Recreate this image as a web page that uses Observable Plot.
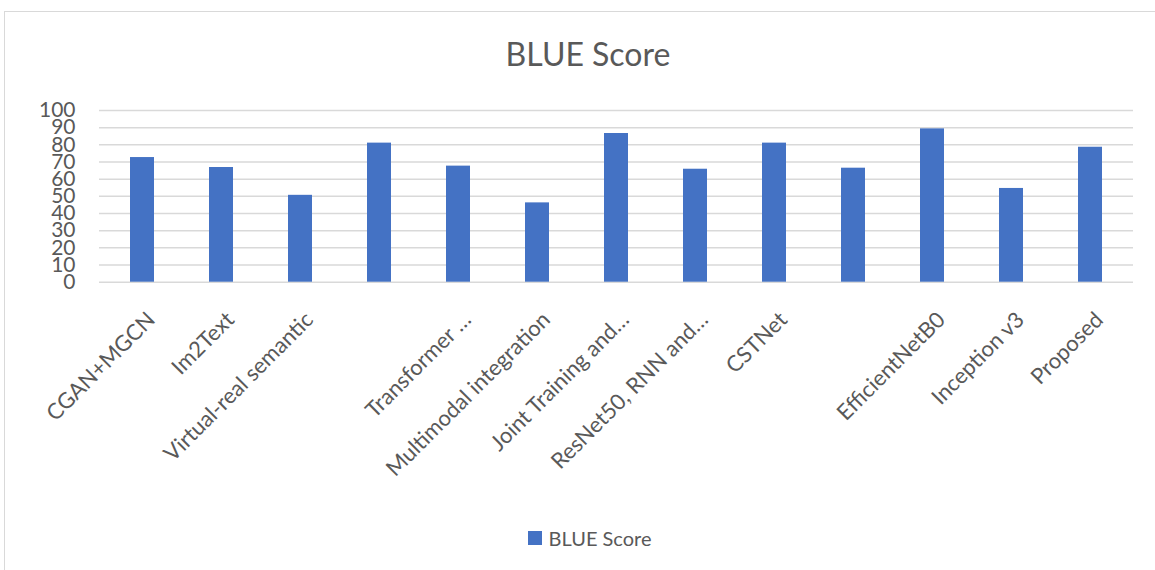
<!DOCTYPE html>
<html>
<head>
<meta charset="utf-8">
<script src="https://cdn.jsdelivr.net/npm/d3@7"></script>
<script src="https://cdn.jsdelivr.net/npm/@observablehq/plot@0.6"></script>
<style>
  html, body { margin: 0; padding: 0; background: #fff; }
  body { width: 1155px; height: 570px; overflow: hidden; position: relative; font-family: Lato, "Open Sans", sans-serif; color: #595959; }
  .frame { position: absolute; left: 4px; top: 11px; width: 1300px; height: 700px; z-index: 2; pointer-events: none;
           border-top: 1.5px solid #d9d9d9; border-left: 1.5px solid #d9d9d9; box-sizing: border-box; }
  #chart { position: absolute; left: 0; top: 0; width: 1155px; z-index: 1; }
  .title { height: 90px; box-sizing: border-box; padding-top: 38px; width: 1176px;
           text-align: center; font-size: 32px; line-height: 32px; white-space: nowrap; }
  .legend { height: 60px; box-sizing: border-box; padding-top: 18px; width: 1179px;
            display: flex; justify-content: center; align-items: flex-start; }
  .legend .item { display: flex; align-items: center; height: 20px; font-size: 20px; line-height: 20px; }
  .legend .swatch { width: 14px; height: 14px; background: #4472c4; margin-right: 7px; }
  svg { display: block; }
</style>
</head>
<body>
<div id="chart"></div>
<div class="frame"></div>
<script>
// Models compared (two categories carry no printed label on the axis)
const labels = [
  "CGAN+MGCN",
  "Im2Text",
  "Virtual-real semantic",
  "",
  "Transformer …",
  "Multimodal integration",
  "Joint Training and…",
  "ResNet50, RNN and…",
  "CSTNet",
  "",
  "EfficientNetB0",
  "Inception v3",
  "Proposed"
];

// BLUE score per model
const scores = [72.6, 66.8, 50.6, 81.0, 67.6, 46.2, 86.6, 65.8, 81.0, 66.4, 89.3, 54.6, 78.6];

// Value axis ticks
const yTicks = [0, 10, 20, 30, 40, 50, 60, 70, 80, 90, 100];

const seriesName = "BLUE Score";
const barColor = "#4472c4";
const textColor = "#595959";
const gridColor = "#d9d9d9";

const data = scores.map((score, i) => ({i, score}));

const root = document.getElementById("chart");

const title = document.createElement("div");
title.className = "title";
title.textContent = seriesName;
root.appendChild(title);

const chart = Plot.plot({
  width: 1155,
  height: 420,
  marginLeft: 99,
  marginRight: 22,
  marginTop: 20,
  marginBottom: 228.3,
  style: {fontFamily: "Lato, 'Open Sans', sans-serif", color: textColor, background: "transparent"},
  x: {domain: d3.range(labels.length), paddingInner: 0.69, paddingOuter: 0.345, label: null},
  y: {domain: [0, 100], label: null},
  marks: [
    Plot.ruleY(yTicks, {stroke: gridColor, strokeWidth: 1.5}),
    Plot.barY(data, {x: "i", y: "score", fill: barColor}),
    Plot.axisY({ticks: yTicks, tickSize: 0, tickPadding: 24, fontSize: 21, fill: textColor, label: null}),
    Plot.axisX({tickSize: 0, tickRotate: -45, tickPadding: 34, dx: 9, fontSize: 22, fill: textColor,
                tickFormat: i => labels[i], label: null})
  ]
});
root.appendChild(chart);

const legend = document.createElement("div");
legend.className = "legend";
legend.innerHTML = `<div class="item"><div class="swatch"></div><span></span></div>`;
legend.querySelector("span").textContent = seriesName;
root.appendChild(legend);
</script>
</body>
</html>
